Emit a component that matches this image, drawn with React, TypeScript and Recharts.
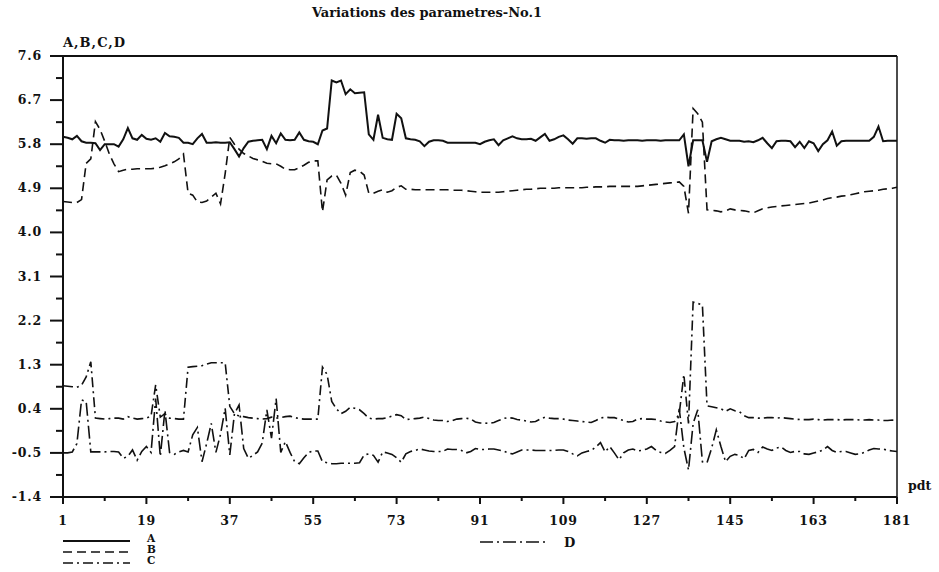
import React from 'react'
import { LineChart, Line, XAxis, YAxis, ReferenceLine } from 'recharts'

const FONT = '"DejaVu Serif", "Liberation Serif", serif'
const INK = '#111'
const AXIS_LEFT = 63
const AXIS_BOTTOM = 497

const periods = Array.from({ length: 181 }, (_, i) => i + 1)

const seriesA = [
  5.95, 5.93, 5.90, 5.97, 5.86, 5.83, 5.83, 5.82, 5.68, 5.80,
  5.80, 5.80, 5.75, 5.90, 6.13, 5.92, 5.89, 5.99, 5.91, 5.89,
  5.92, 5.85, 6.03, 5.96, 5.95, 5.93, 5.83, 5.83, 5.80, 5.92,
  6.01, 5.83, 5.83, 5.84, 5.83, 5.83, 5.84, 5.70, 5.55, 5.72,
  5.85, 5.87, 5.88, 5.89, 5.70, 5.97, 5.82, 6.02, 5.89, 5.88,
  5.89, 6.04, 5.89, 5.86, 5.85, 5.80, 6.08, 6.12, 7.10, 7.06,
  7.10, 6.82, 6.92, 6.84, 6.85, 6.86, 6.00, 5.89, 6.40, 5.93,
  5.90, 5.89, 6.42, 6.33, 5.92, 5.90, 5.89, 5.86, 5.76, 5.85,
  5.88, 5.88, 5.87, 5.83, 5.83, 5.83, 5.83, 5.83, 5.83, 5.83,
  5.80, 5.85, 5.88, 5.90, 5.78, 5.88, 5.92, 5.96, 5.92, 5.90,
  5.90, 5.91, 5.87, 5.94, 6.01, 5.87, 5.90, 5.95, 5.98, 5.90,
  5.81, 5.92, 5.92, 5.91, 5.92, 5.92, 5.87, 5.83, 5.89, 5.88,
  5.88, 5.87, 5.88, 5.88, 5.88, 5.87, 5.88, 5.88, 5.88, 5.87,
  5.88, 5.88, 5.88, 5.88, 6.00, 5.35, 5.88, 5.88, 5.88, 5.44,
  5.86, 5.90, 5.93, 5.90, 5.87, 5.87, 5.87, 5.85, 5.86, 5.84,
  5.88, 5.93, 5.82, 5.72, 5.86, 5.87, 5.87, 5.86, 5.74, 5.85,
  5.72, 5.86, 5.82, 5.66, 5.80, 5.88, 6.06, 5.77, 5.86, 5.87,
  5.87, 5.87, 5.87, 5.87, 5.87, 5.95, 6.16, 5.86, 5.87, 5.87, 5.87,
]

const seriesB = [
  4.63, 4.62, 4.61, 4.61, 4.67, 5.41, 5.50, 6.26, 6.10, 5.86,
  5.60, 5.40, 5.24, 5.27, 5.29, 5.29, 5.30, 5.30, 5.30, 5.30,
  5.31, 5.33, 5.36, 5.40, 5.44, 5.50, 5.60, 4.80, 4.76, 4.62,
  4.61, 4.64, 4.72, 4.80, 4.58, 5.20, 5.94, 5.80, 5.70, 5.61,
  5.56, 5.51, 5.48, 5.45, 5.41, 5.40, 5.40, 5.35, 5.29, 5.28,
  5.28, 5.32, 5.37, 5.43, 5.46, 5.46, 4.42, 5.07, 5.15, 5.17,
  5.00, 4.76, 5.22, 5.27, 5.25, 5.17, 4.80, 4.80, 4.84, 4.87,
  4.82, 4.85, 4.92, 4.95, 4.88, 4.88, 4.87, 4.87, 4.87, 4.87,
  4.87, 4.87, 4.87, 4.87, 4.86, 4.86, 4.86, 4.85, 4.84, 4.83,
  4.82, 4.82, 4.82, 4.82, 4.82, 4.83, 4.84, 4.85, 4.86, 4.87,
  4.88, 4.88, 4.89, 4.90, 4.90, 4.90, 4.90, 4.91, 4.91, 4.91,
  4.91, 4.91, 4.91, 4.92, 4.92, 4.93, 4.93, 4.93, 4.94, 4.94,
  4.94, 4.94, 4.94, 4.94, 4.94, 4.95, 4.96, 4.97, 4.98, 4.99,
  5.00, 5.01, 5.02, 5.03, 4.94, 4.39, 6.53, 6.42, 6.25, 4.46,
  4.45, 4.44, 4.42, 4.44, 4.48, 4.46, 4.45, 4.44, 4.42, 4.40,
  4.44, 4.48, 4.50, 4.52, 4.53, 4.54, 4.55, 4.56, 4.57, 4.58,
  4.59, 4.60, 4.62, 4.64, 4.66, 4.69, 4.71, 4.72, 4.74, 4.75,
  4.77, 4.79, 4.81, 4.83, 4.84, 4.85, 4.86, 4.88, 4.89, 4.90, 4.92,
]

const seriesC = [
  0.87, 0.86, 0.85, 0.84, 0.88, 1.05, 1.36, 0.21, 0.20, 0.19,
  0.20, 0.21, 0.21, 0.19, 0.24, 0.21, 0.19, 0.20, 0.21, 0.25,
  0.89, 0.23, 0.30, 0.21, 0.20, 0.19, 0.19, 1.25, 1.26, 1.27,
  1.28, 1.31, 1.34, 1.34, 1.34, 1.34, 0.45, 0.30, 0.25, 0.24,
  0.22, 0.21, 0.20, 0.19, 0.20, 0.23, 0.21, 0.22, 0.24, 0.25,
  0.22, 0.20, 0.19, 0.19, 0.19, 0.19, 1.25, 1.10, 0.55, 0.40,
  0.30, 0.35, 0.43, 0.41, 0.38, 0.30, 0.21, 0.19, 0.20, 0.20,
  0.22, 0.25, 0.28, 0.26, 0.18, 0.19, 0.20, 0.21, 0.23, 0.20,
  0.17, 0.16, 0.16, 0.14, 0.16, 0.19, 0.20, 0.21, 0.19, 0.13,
  0.11, 0.11, 0.10, 0.12, 0.16, 0.20, 0.22, 0.21, 0.18, 0.17,
  0.15, 0.13, 0.14, 0.19, 0.23, 0.21, 0.20, 0.20, 0.19, 0.17,
  0.16, 0.15, 0.14, 0.13, 0.12, 0.16, 0.21, 0.23, 0.22, 0.22,
  0.19, 0.16, 0.13, 0.14, 0.19, 0.20, 0.19, 0.19, 0.18, 0.15,
  0.13, 0.12, 0.14, 0.30, 1.10, 0.10, 2.58, 2.55, 2.52, 0.46,
  0.44, 0.42, 0.40, 0.35, 0.40, 0.36, 0.34, 0.26, 0.22, 0.22,
  0.21, 0.21, 0.22, 0.22, 0.21, 0.22, 0.21, 0.20, 0.19, 0.18,
  0.18, 0.18, 0.19, 0.18, 0.17, 0.18, 0.18, 0.18, 0.17, 0.18,
  0.18, 0.18, 0.17, 0.17, 0.18, 0.17, 0.17, 0.16, 0.16, 0.17, 0.16,
]

const seriesD = [
  -0.50, -0.50, -0.48, -0.31, 0.58, 0.55, -0.48, -0.48, -0.48, -0.48,
  -0.47, -0.47, -0.48, -0.61, -0.57, -0.44, -0.65, -0.47, -0.37, -0.49,
  0.61, -0.57, 0.37, -0.49, -0.53, -0.48, -0.45, -0.48, -0.13, 0.02,
  -0.68, -0.31, 0.10, -0.49, -0.12, 0.41, -0.54, 0.30, 0.48, -0.41,
  -0.61, -0.55, -0.48, -0.30, 0.38, -0.20, 0.61, -0.49, -0.27, -0.49,
  -0.68, -0.72, -0.60, -0.49, -0.46, -0.46, -0.68, -0.70, -0.72, -0.72,
  -0.71, -0.71, -0.71, -0.71, -0.70, -0.54, -0.52, -0.55, -0.69, -0.48,
  -0.50, -0.53, -0.60, -0.69, -0.52, -0.47, -0.45, -0.42, -0.44, -0.46,
  -0.47, -0.47, -0.47, -0.42, -0.43, -0.43, -0.45, -0.50, -0.47, -0.41,
  -0.43, -0.43, -0.42, -0.42, -0.44, -0.46, -0.50, -0.52, -0.48, -0.44,
  -0.44, -0.44, -0.45, -0.45, -0.45, -0.45, -0.45, -0.44, -0.44, -0.47,
  -0.52, -0.56, -0.50, -0.47, -0.45, -0.38, -0.29, -0.48, -0.37, -0.50,
  -0.64, -0.50, -0.44, -0.42, -0.46, -0.45, -0.42, -0.37, -0.45, -0.49,
  -0.51, -0.45, -0.37, 0.40, -0.40, -0.85, 0.10, 0.38, -0.68, -0.70,
  -0.40, -0.03, -0.37, -0.68, -0.57, -0.53, -0.55, -0.62, -0.45, -0.43,
  -0.49, -0.38, -0.42, -0.45, -0.40, -0.38, -0.45, -0.49, -0.47, -0.47,
  -0.52, -0.53, -0.50, -0.48, -0.44, -0.37, -0.45, -0.49, -0.47, -0.47,
  -0.50, -0.53, -0.52, -0.49, -0.44, -0.41, -0.42, -0.42, -0.45, -0.46, -0.47,
]

const xTicks = [1, 10, 19, 28, 37, 46, 55, 64, 73, 82, 91, 100, 109, 118, 127, 136, 145, 154, 163, 172, 181]
const yTicks = [-1.4, -0.95, -0.5, -0.05, 0.4, 0.85, 1.3, 1.75, 2.2, 2.65, 3.1, 3.55, 4.0, 4.45, 4.9, 5.35, 5.8, 6.25, 6.7, 7.15, 7.6]
const yLabels = ['-1.4', '', '-0.5', '', '0.4', '', '1.3', '', '2.2', '', '3.1', '', '4.0', '', '4.9', '', '5.8', '', '6.7', '', '7.6']

const dashB = '9 5'
const dashC = '10 4 2 4'
const dashD = '13 4 2 4'

const data = periods.map((p, i) => ({
  pdt: p,
  A: seriesA[i],
  B: seriesB[i],
  C: seriesC[i],
  D: seriesD[i],
}))

const txt = { fontFamily: FONT, fontWeight: 'bold' as const, fill: INK }

function LeftTick(props: any) {
  const { y, index } = props
  const major = index % 2 === 0
  return (
    <g>
      <line x1={AXIS_LEFT - (major ? 13 : 7)} x2={AXIS_LEFT} y1={y} y2={y} stroke={INK} strokeWidth={2} />
      {major && (
        <text x={42} y={y} dy={4} textAnchor="end" fontSize={12.5} letterSpacing={0.8} {...txt}>
          {yLabels[index]}
        </text>
      )}
    </g>
  )
}

function RightTick(props: any) {
  const { x, y } = props
  return <line x1={x - 4} x2={x} y1={y} y2={y} stroke={INK} strokeWidth={1.5} />
}

function BottomTick(props: any) {
  const { x, index, payload } = props
  const major = index % 2 === 0
  return (
    <g>
      <line x1={x} x2={x} y1={AXIS_BOTTOM} y2={AXIS_BOTTOM + (major ? 7 : 4)} stroke={INK} strokeWidth={2} />
      {major && (
        <text x={x} y={AXIS_BOTTOM + 28} textAnchor="middle" fontSize={12.5} letterSpacing={0.8} {...txt}>
          {payload.value}
        </text>
      )}
    </g>
  )
}

export default function App() {
  return (
    <div style={{ position: 'absolute', left: 0, top: 0, width: 939, height: 572, background: '#fff' }}>
      <LineChart width={939} height={572} data={data} margin={{ top: 56, right: 42, bottom: 45, left: 0 }}>
        <XAxis
          dataKey="pdt"
          type="number"
          domain={[1, 181]}
          ticks={xTicks}
          interval={0}
          height={30}
          tickSize={0}
          tickMargin={0}
          tickLine={false}
          tick={<BottomTick />}
          axisLine={{ stroke: INK, strokeWidth: 2 }}
        />
        <YAxis
          type="number"
          domain={[-1.4, 7.6]}
          ticks={yTicks}
          interval={0}
          width={63}
          tickSize={0}
          tickMargin={0}
          tickLine={false}
          tick={<LeftTick />}
          axisLine={{ stroke: INK, strokeWidth: 2 }}
        />
        <YAxis
          yAxisId="r"
          orientation="right"
          mirror
          type="number"
          domain={[-1.4, 7.6]}
          ticks={yTicks}
          interval={0}
          width={0}
          tickSize={0}
          tickMargin={0}
          tickLine={false}
          tick={<RightTick />}
          axisLine={{ stroke: INK, strokeWidth: 1.5 }}
        />
        <ReferenceLine y={7.6} stroke={INK} strokeWidth={2} />
        <ReferenceLine x={181} stroke={INK} strokeWidth={1.5} />
        <Line type="linear" dataKey="A" stroke={INK} strokeWidth={2} dot={false} isAnimationActive={false} />
        <Line type="linear" dataKey="B" stroke={INK} strokeWidth={1.6} strokeDasharray={dashB} dot={false} isAnimationActive={false} />
        <Line type="linear" dataKey="C" stroke={INK} strokeWidth={1.6} strokeDasharray={dashC} dot={false} isAnimationActive={false} />
        <Line type="linear" dataKey="D" stroke={INK} strokeWidth={1.6} strokeDasharray={dashD} dot={false} isAnimationActive={false} />
      </LineChart>
      <svg width={939} height={572} style={{ position: 'absolute', left: 0, top: 0, pointerEvents: 'none' }}>
        <text x={427} y={17} textAnchor="middle" fontSize={13} {...txt}>
          Variations des parametres-No.1
        </text>
        <text x={63} y={47} fontSize={13} letterSpacing={1} {...txt}>
          A,B,C,D
        </text>
        <text x={908} y={490} fontSize={12.5} {...txt}>
          pdt
        </text>
        <line x1={63} x2={130} y1={541} y2={541} stroke={INK} strokeWidth={2} />
        <line x1={63} x2={130} y1={552} y2={552} stroke={INK} strokeWidth={1.6} strokeDasharray={dashB} />
        <line x1={63} x2={130} y1={563} y2={563} stroke={INK} strokeWidth={1.6} strokeDasharray={dashC} />
        <text x={147} y={542} fontSize={10.5} {...txt}>A</text>
        <text x={147} y={553} fontSize={10.5} {...txt}>B</text>
        <text x={147} y={564} fontSize={10.5} {...txt}>C</text>
        <line x1={480} x2={545} y1={542} y2={542} stroke={INK} strokeWidth={1.6} strokeDasharray={dashD} />
        <text x={564} y={547} fontSize={13} {...txt}>D</text>
      </svg>
    </div>
  )
}
